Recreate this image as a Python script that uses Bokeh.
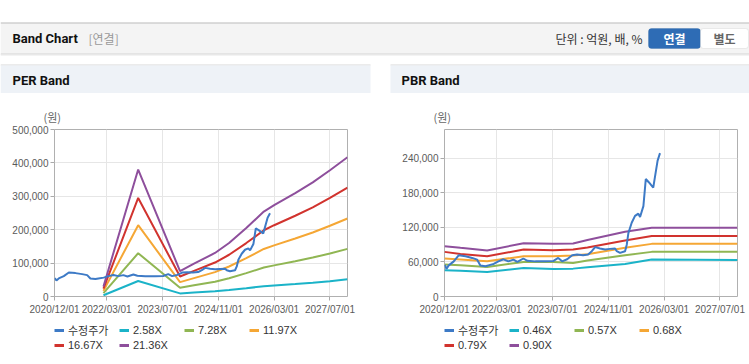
import pandas as pd
from bokeh.plotting import figure
from bokeh.models import (Range1d, FixedTicker, DatetimeTickFormatter, NumeralTickFormatter,
                          Legend, LegendItem, Label, BoxAnnotation, Span, Spacer)
from bokeh.layouts import column, row
from bokeh.embed import file_html
from bokeh.resources import INLINE

FONT = "Liberation Sans, Noto Sans CJK KR"
TFONT = "Roboto, Noto Sans CJK KR"
KFONT = "Noto Sans CJK KR"

# ---------------- data ----------------
X_START = "2020-12-01"
X_END = "2027-12-01"
X_TICKS = ["2020-12-01", "2022-03-01", "2023-07-01", "2024-11-01", "2026-03-01", "2027-07-01"]

PRICE_DATES = ["2020-12-04", "2020-12-18", "2021-01-07", "2021-02-20", "2021-04-05", "2021-06-02",
               "2021-07-30", "2021-09-12", "2021-10-10", "2021-11-23", "2021-12-19", "2022-02-03",
               "2022-03-16", "2022-04-29", "2022-06-11", "2022-07-25", "2022-08-29", "2022-10-20",
               "2022-11-24", "2023-02-01", "2023-04-29", "2023-07-07", "2023-08-20", "2023-09-23",
               "2023-11-06", "2023-12-20", "2024-02-01", "2024-03-24", "2024-05-07", "2024-06-08",
               "2024-07-07", "2024-08-19", "2024-10-02", "2024-11-14", "2024-12-28", "2025-01-12",
               "2025-02-09", "2025-03-25", "2025-04-09", "2025-04-23", "2025-05-22", "2025-06-20",
               "2025-07-19", "2025-08-03", "2025-09-01", "2025-09-22", "2025-10-20", "2025-11-26",
               "2025-12-17", "2026-01-03", "2026-01-24"]
PRICE = [55000, 48000, 54000, 61000, 71700, 70000, 67000, 64000, 54000, 52400, 54000, 56500,
         61000, 64600, 61000, 64000, 60000, 66000, 62000, 61000, 61000, 61500, 67000, 61000,
         64600, 71700, 72900, 71700, 73000, 78700, 85700, 83400, 81600, 82700, 83400, 78700,
         75700, 78700, 90000, 110000, 128000, 140000, 144000, 138000, 157000, 204000, 198000,
         189000, 215000, 236000, 249000]

PER_DATES = ["2022-02-01", "2022-12-01", "2023-12-01", "2024-04-01", "2024-10-01", "2025-02-01",
             "2025-07-01", "2025-12-01", "2026-03-01", "2026-09-01", "2027-02-01", "2027-07-01",
             "2027-12-01"]
PER_NAMES = ["2.58X", "7.28X", "11.97X", "16.67X", "21.36X"]
PER_258 = [3600, 46500, 9300, 11900, 15700, 19400, 24800, 30700, 33000, 37400, 41300, 45700, 51500]
PER_728 = [10200, 129600, 26200, 33500, 44400, 54600, 69900, 86600, 93200, 105600, 116500, 128900, 142500]
PER_1197 = [16800, 213500, 43100, 55100, 73000, 89800, 114900, 142400, 153200, 173600, 191500, 211900, 233500]
PER_1667 = [23300, 295000, 60000, 76700, 101700, 125000, 160000, 198400, 213400, 241700, 266700, 295100, 326000]
PER_2136 = [29900, 380000, 76000, 98300, 130300, 160200, 205100, 254200, 273400, 309700, 341800, 378100, 417000]
PER_YTICKS = [0, 100000, 200000, 300000, 400000, 500000]
PER_YMAX = 500000

PBR_DATES = ["2020-12-01", "2021-04-19", "2021-12-08", "2022-10-22", "2023-07-07", "2023-12-28",
             "2024-05-01", "2025-03-25", "2025-11-13", "2027-12-01"]
PBR_NAMES = ["0.46X", "0.57X", "0.68X", "0.79X", "0.90X"]
PBR_046 = [45400, 44900, 42500, 49500, 47800, 48400, 50700, 56500, 64100, 63500]
PBR_057 = [55400, 54200, 51300, 60000, 60000, 58300, 62600, 71700, 77500, 77500]
PBR_068 = [65900, 64100, 61200, 69900, 69900, 71100, 73500, 84500, 91400, 91400]
PBR_079 = [77500, 74000, 69900, 81600, 80400, 81600, 85200, 97400, 104900, 105000]
PBR_090 = [87400, 84500, 79900, 92500, 91400, 92000, 98000, 112400, 119400, 119400]
PBR_YTICKS = [0, 60000, 120000, 180000, 240000]
PBR_YMAX = 290000

PRICE_NAME = "수정주가"
PRICE_COLOR = "#3d7ac6"
BAND_COLORS = ["#1bb3c8", "#90b653", "#f5a735", "#d1332e", "#8e4f9c"]


def ms(s):
    return pd.Timestamp(s).timestamp() * 1000


def box(f, l, r, t, b, fill, line=None, radius=0):
    f.add_layout(BoxAnnotation(left=l, right=r, top=t, bottom=b, fill_color=fill, fill_alpha=1,
                               line_color=line, line_width=1, border_radius=radius))


def series_list(band_dates, bands, names):
    bx = pd.to_datetime(band_dates)
    out = [(pd.to_datetime(PRICE_DATES), PRICE, PRICE_COLOR, PRICE_NAME)]
    for vals, col, n in zip(bands, BAND_COLORS, names):
        out.append((bx, vals, col, n))
    return out


def band_fig(w, mb_left, mb_right, series, ymax, yticks):
    p = figure(width=w, height=225, x_axis_type="datetime",
               x_range=Range1d(ms(X_START), ms(X_END)), y_range=Range1d(0, ymax),
               output_backend="svg", toolbar_location=None,
               min_border_left=mb_left, min_border_right=mb_right,
               min_border_top=36, min_border_bottom=22,
               background_fill_color="#ffffff", border_fill_color="#ffffff",
               outline_line_color="#b0b0b0", outline_line_width=1)
    # bands first, adjusted price on top
    for xs, ys, col, _ in series[1:] + series[:1]:
        p.line(xs, ys, line_color=col, line_width=2)

    fmt = "%Y/%m/%d"
    p.xaxis.ticker = FixedTicker(ticks=[ms(d) for d in X_TICKS])
    p.xaxis.formatter = DatetimeTickFormatter(
        microseconds=fmt, milliseconds=fmt, seconds=fmt, minsec=fmt, minutes=fmt,
        hourmin=fmt, hours=fmt, days=fmt, months=fmt, years=fmt, strip_leading_zeros=False)
    p.yaxis.ticker = FixedTicker(ticks=yticks)
    p.yaxis.formatter = NumeralTickFormatter(format="0,0")
    for ax in (p.xaxis[0], p.yaxis[0]):
        ax.axis_line_color = None
        ax.major_tick_line_color = "#aaaaaa"
        ax.major_tick_in = 0
        ax.major_tick_out = 4
        ax.minor_tick_line_color = None
        ax.major_label_text_font = FONT
        ax.major_label_text_font_size = "10px"
        ax.major_label_text_color = "#5a5a5a"
    p.xaxis.major_label_standoff = 3
    p.yaxis.major_label_standoff = 2
    p.xgrid.grid_line_color = "#e6e6e6"
    p.ygrid.grid_line_color = "#e6e6e6"

    # unit caption "(원)" above the y axis
    p.title.text = "(원)"
    p.title.align = "left"
    p.title.offset = -11
    p.title.text_font = KFONT
    p.title.text_font_size = "11px"
    p.title.text_font_style = "normal"
    p.title.text_color = "#666666"
    return p


def legend_fig(w, mb_left, mb_right, series):
    # the series are drawn here only as legend sources; the ranges keep them out of view
    f = figure(width=w, height=46, x_range=Range1d(0, 1), y_range=Range1d(0, 1),
               output_backend="svg", toolbar_location=None,
               x_axis_location=None, y_axis_location=None,
               min_border_left=mb_left, min_border_right=mb_right,
               min_border_top=0, min_border_bottom=0,
               background_fill_color="#ffffff", border_fill_color="#ffffff",
               outline_line_color=None)
    f.xgrid.visible = False
    f.ygrid.visible = False
    items = []
    for xs, ys, col, lab in series:
        r = f.line(xs, ys, line_color=col, line_width=3)
        items.append(LegendItem(label=lab, renderers=[r]))
    leg = Legend(items=items, location=(0, 13), orientation="horizontal", ncols=4,
                 glyph_width=10, glyph_height=12, label_standoff=4, label_width=50,
                 label_height=12, spacing=1, padding=0, margin=0,
                 background_fill_alpha=0, border_line_alpha=0,
                 label_text_font=FONT, label_text_font_size="11px", label_text_color="#333333")
    f.add_layout(leg)
    return f


# ---------------- header + panel title bars (one decorative canvas) ----------------
top = figure(width=749, height=93, x_range=Range1d(0, 749), y_range=Range1d(93, 0),
             output_backend="svg", toolbar_location=None,
             x_axis_location=None, y_axis_location=None, min_border=0,
             background_fill_color="#ffffff", border_fill_color="#ffffff", outline_line_color=None)
top.xgrid.visible = False
top.ygrid.visible = False

box(top, 0, 749, 23, 53, "#f4f4f4")
top.add_layout(Span(location=22.5, dimension="width", line_color="#b8b8b8", line_width=1))
top.add_layout(Span(location=53.5, dimension="width", line_color="#cfcfcf", line_width=1))
top.add_layout(Span(location=54.5, dimension="width", line_color="#e8e8e8", line_width=1))
top.add_layout(Label(x=12, y=38, text="Band Chart", text_baseline="middle", text_font=TFONT,
                     text_font_size="13px", text_font_style="bold", text_color="#111111"))
top.add_layout(Label(x=88, y=38, text="[연결]", text_baseline="middle", text_font=KFONT,
                     text_font_size="12px", text_color="#999999"))
top.add_layout(Label(x=642, y=38, text="단위 : 억원, 배, %", text_align="right",
                     text_baseline="middle", text_font=KFONT, text_font_size="12px",
                     text_color="#333333"))
box(top, 648, 700, 28, 48, "#2e6cb5", "#285f9f", 3)
box(top, 700, 748, 28, 48, "#ffffff", "#c4c4c4", 3)
top.add_layout(Label(x=674, y=38, text="연결", text_align="center", text_baseline="middle",
                     text_font=KFONT, text_font_size="12px", text_font_style="bold",
                     text_color="#ffffff"))
top.add_layout(Label(x=724, y=38, text="별도", text_align="center", text_baseline="middle",
                     text_font=KFONT, text_font_size="12px", text_font_style="bold",
                     text_color="#666666"))

# title bars
box(top, 0, 370, 64, 65, "#d8d8d8")
box(top, 390, 749, 64, 65, "#d8d8d8")
box(top, 0, 370, 65, 93, "#eef2f7")
box(top, 390, 749, 65, 93, "#eef2f7")
top.add_layout(Label(x=12, y=79.5, text="PER Band", text_baseline="middle", text_font=TFONT,
                     text_font_size="13px", text_font_style="bold", text_color="#111111"))
top.add_layout(Label(x=401, y=79.5, text="PBR Band", text_baseline="middle", text_font=TFONT,
                     text_font_size="13px", text_font_style="bold", text_color="#111111"))

# ---------------- charts ----------------
per_series = series_list(PER_DATES, [PER_258, PER_728, PER_1197, PER_1667, PER_2136], PER_NAMES)
pbr_series = series_list(PBR_DATES, [PBR_046, PBR_057, PBR_068, PBR_079, PBR_090], PBR_NAMES)

p_per = band_fig(370, 54, 23, per_series, PER_YMAX, PER_YTICKS)
l_per = legend_fig(370, 54, 23, per_series)
p_pbr = band_fig(359, 54, 12, pbr_series, PBR_YMAX, PBR_YTICKS)
l_pbr = legend_fig(359, 54, 12, pbr_series)

layout = column(top, row(column(p_per, l_per), Spacer(width=20, height=271),
                         column(p_pbr, l_pbr)))

open("out.html", "w").write(file_html(layout, INLINE))
